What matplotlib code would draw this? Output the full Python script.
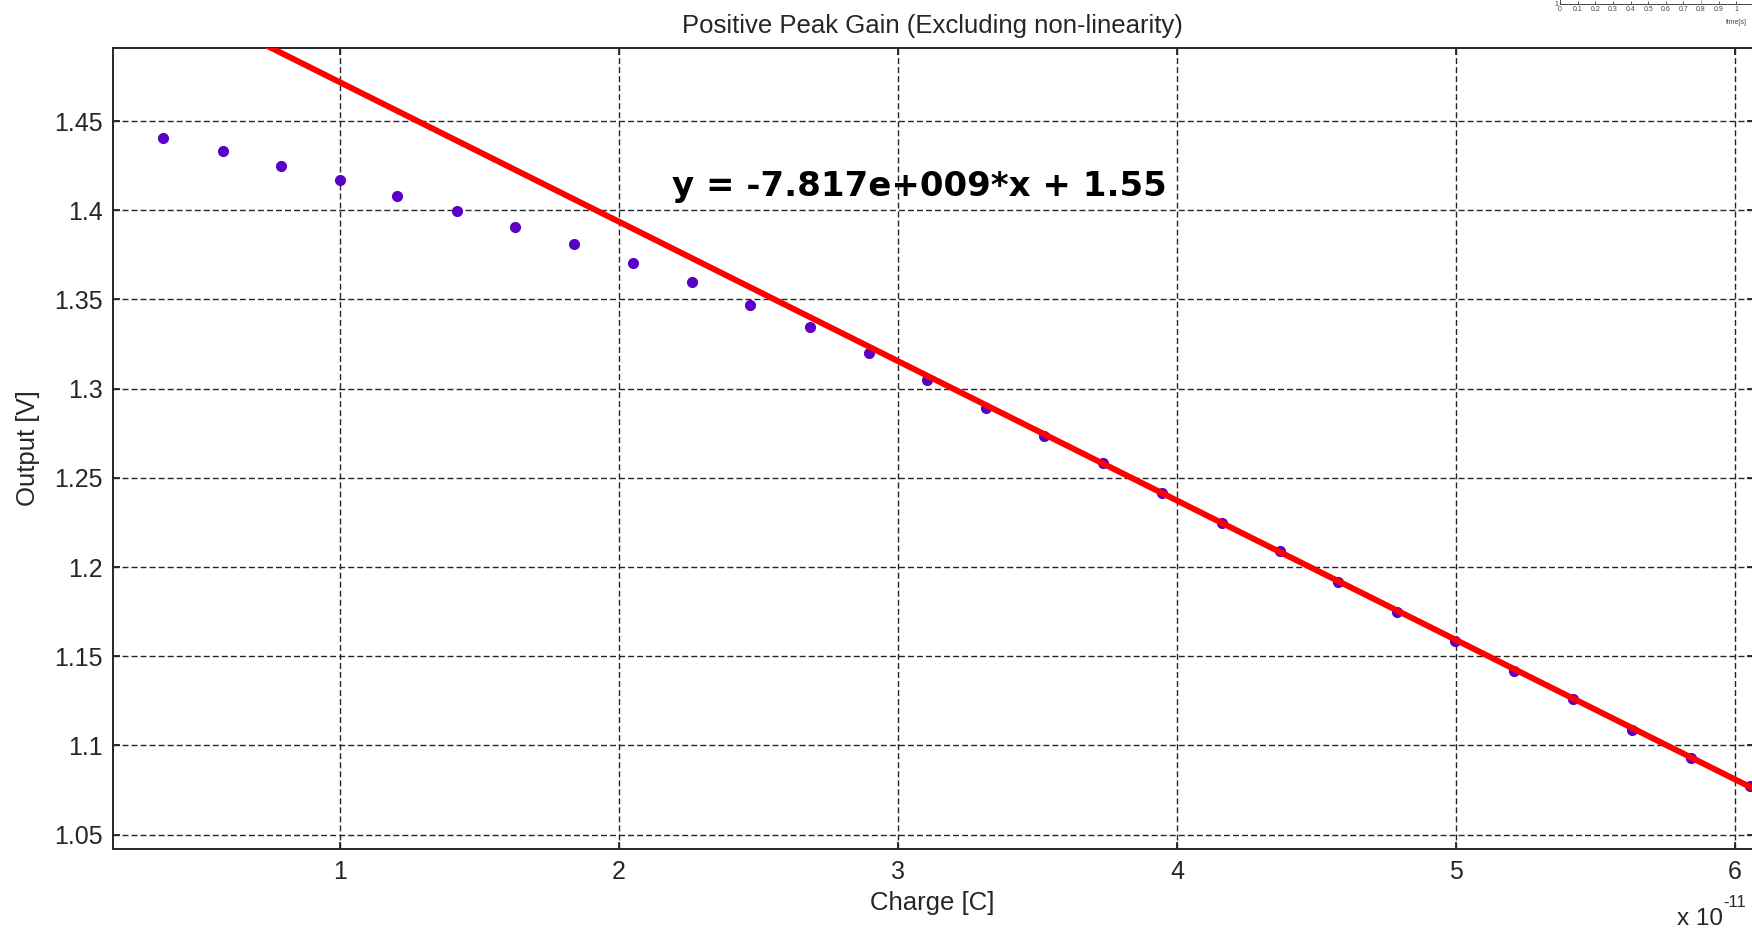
import matplotlib
matplotlib.use("Agg")
import matplotlib.pyplot as plt
import numpy as np

# ----------------------------
# Data (charge in units of 1e-11 C)
# ----------------------------
charge_e11 = [0.366, 0.581, 0.790, 1.001, 1.204, 1.420, 1.628, 1.840, 2.052, 2.264,
              2.472, 2.684, 2.896, 3.104, 3.316, 3.524, 3.736, 3.948, 4.160, 4.368,
              4.576, 4.788, 4.996, 5.208, 5.420, 5.632, 5.844, 6.052]
output_v = [1.4403, 1.4334, 1.4248, 1.4171, 1.4078, 1.3994, 1.3906, 1.3812, 1.3705, 1.3599,
            1.3469, 1.3343, 1.3199, 1.3050, 1.2893, 1.2737, 1.2582, 1.2418, 1.2249, 1.2088,
            1.1918, 1.1750, 1.1588, 1.1418, 1.1262, 1.1088, 1.0931, 1.0772]

# linear fit reported on the chart
fit_slope = -7.817e9
fit_intercept = 1.55
fit_label = "y = -7.817e+009*x + 1.55"

x_ticks = [1, 2, 3, 4, 5, 6]
y_ticks = [1.05, 1.1, 1.15, 1.2, 1.25, 1.3, 1.35, 1.4, 1.45]
y_tick_labels = ["1.05", "1.1", "1.15", "1.2", "1.25", "1.3", "1.35", "1.4", "1.45"]

plt.rcParams["font.family"] = ["Liberation Sans", "DejaVu Sans"]

W, H = 1752, 930
fig = plt.figure(figsize=(W / 100, H / 100), dpi=100)

# main axes (right edge runs off the figure, as in the screenshot)
left, right, top, bottom = 113.3, 1754, 48.3, 849.3
ax = fig.add_axes([left / W, 1 - bottom / H, (right - left) / W, (bottom - top) / H])

ax.plot(charge_e11, output_v, linestyle="none", marker="o", markersize=7,
        color="#5a00c8", zorder=3)

x_fit = np.array([0.0, 6.5])
y_fit = fit_slope * x_fit * 1e-11 + fit_intercept
ax.plot(x_fit, y_fit, color="#ff0000", linewidth=4.3, zorder=4)

ax.set_xlim(0.1887, 6.068)
ax.set_ylim(1.0418, 1.4908)
ax.set_xticks(x_ticks)
ax.set_xticklabels([str(t) for t in x_ticks])
ax.set_yticks(y_ticks)
ax.set_yticklabels(y_tick_labels)

ax.grid(True, color="#262626", linewidth=1.0, linestyle=(0, (4.3, 2.2)))
ax.tick_params(direction="in", length=5, width=1.3, top=True, right=True,
               labelsize=18, colors="#262626")
ax.tick_params(axis="x", pad=8)
ax.tick_params(axis="y", pad=7.4)
for s in ax.spines.values():
    s.set_linewidth(1.4)
    s.set_color("#262626")

ax.text(2.19, 1.4081, fit_label, ha="left", va="baseline", fontsize=24.5,
        fontweight="bold", family="DejaVu Sans", color="black", zorder=5)

# titles and labels placed in figure pixels
fig.text(932 / W, 1 - 33.5 / H, "Positive Peak Gain (Excluding non-linearity)",
         ha="center", va="baseline", fontsize=18.5, color="#262626")
fig.text(932 / W, 1 - 910 / H, "Charge [C]", ha="center", va="baseline",
         fontsize=18.5, color="#262626")
fig.text(28 / W, 1 - 448 / H, "Output [V]", ha="center", va="center",
         rotation=90, fontsize=18.5, color="#262626")
fig.text(1677 / W, 1 - 925 / H, "x 10", ha="left", va="baseline",
         fontsize=17.5, color="#262626")
fig.text(1723 / W, 1 - 907 / H, "-11", ha="left", va="baseline",
         fontsize=12, color="#262626")

# small piece of another plot peeking in at the top right
inset = fig.add_axes([1560 / W, 1 - 4 / H, 176.4 * 1.2 / W, 0.05])
inset.set_xlim(0, 1.2)
inset.set_ylim(1, 2)
inset_ticks = [0, 0.1, 0.2, 0.3, 0.4, 0.5, 0.6, 0.7, 0.8, 0.9, 1]
inset.set_xticks(inset_ticks)
inset.set_xticklabels(["0", "0.1", "0.2", "0.3", "0.4", "0.5", "0.6", "0.7",
                       "0.8", "0.9", "1"])
inset.set_yticks([1])
inset.set_yticklabels(["1"])
inset.axvline(0.8, color="#bbbbbb", linewidth=0.8)
inset.tick_params(direction="in", length=2, width=0.6, labelsize=5, pad=1.5,
                  colors="#444444")
for s in inset.spines.values():
    s.set_linewidth(0.7)
    s.set_color("#444444")
fig.text(1736 / W, 1 - 23 / H, "time[s]", ha="center", va="center",
         fontsize=5, color="#444444")

fig.savefig("out.png", dpi=100)
